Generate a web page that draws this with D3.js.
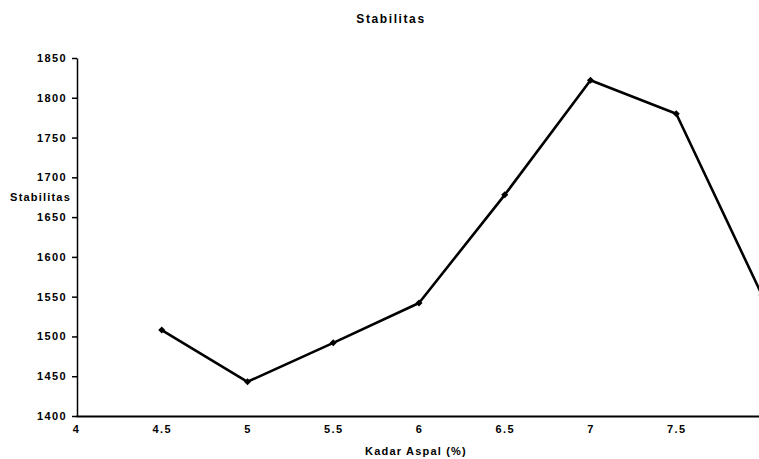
<!DOCTYPE html>
<html>
  <head>
    <meta charset="utf-8">
    <title>Stabilitas</title>
    <script src="https://d3js.org/d3.v7.min.js"></script>
    <style>
      body { margin: 0; background: #fff; }
      svg { display: block; }
      .axis text { font-family: "Liberation Sans", Arial, sans-serif; font-weight: bold; font-size: 11px; fill: #000; letter-spacing: 1.4px; }
      .axis path, .axis line { stroke: #000; }
      .label { font-family: "Liberation Sans", Arial, sans-serif; font-weight: bold; font-size: 11px; fill: #000; letter-spacing: 1.2px; }
      #title { font-size: 12px; letter-spacing: 1.6px; }
      .plot { fill: none; stroke: #000; stroke-width: 2.6px; stroke-linejoin: round; }
    </style>
  </head>
  <body>
    <svg id="chart" width="759" height="459"></svg>
    <script>
      // data
      var kadar = [4.5, 5, 5.5, 6, 6.5, 7, 7.5, 8];
      var stabilitas = [1508, 1443, 1492, 1542, 1678, 1822, 1780, 1552];
      var xTicks = [4, 4.5, 5, 5.5, 6, 6.5, 7, 7.5];
      var yTicks = [1400, 1450, 1500, 1550, 1600, 1650, 1700, 1750, 1800, 1850];

      var width = 759, height = 459;
      var margin = { top: 58, right: -3, bottom: 43, left: 76 };
      var chart = d3.select("#chart");

      var x = d3.scaleLinear()
        .domain([4, 8])
        .range([margin.left, width - margin.right]);
      var y = d3.scaleLinear()
        .domain([1400, 1850])
        .range([height - margin.bottom, margin.top]);

      var xAxis = d3.axisBottom(x)
        .tickValues(xTicks)
        .tickSize(0)
        .tickPadding(9)
        .tickFormat(d3.format("~g"));
      var yAxis = d3.axisLeft(y)
        .tickValues(yTicks)
        .tickSizeInner(5)
        .tickSizeOuter(0)
        .tickPadding(5)
        .tickFormat(d3.format("d"));

      chart.append("g")
        .attr("class", "axis")
        .attr("transform", "translate(0," + y(1400) + ")")
        .call(xAxis)
        .call(function(g) { g.select(".domain").attr("stroke-width", 2); });
      chart.append("g")
        .attr("class", "axis")
        .attr("transform", "translate(" + (margin.left + 1) + ",0)")
        .call(yAxis)
        .call(function(g) { g.select(".domain").attr("stroke-width", 1.5); })
        .call(function(g) { g.selectAll(".tick line").attr("stroke-width", 1.5); });

      var points = kadar.map(function(d, i) { return [x(d), y(stabilitas[i])]; });
      chart.append("path")
        .attr("class", "plot")
        .attr("d", d3.line()(points));
      chart.selectAll(".marker")
        .data(points)
        .enter().append("rect")
          .attr("class", "marker")
          .attr("x", function(d) { return d[0] - 2.5; })
          .attr("y", function(d) { return d[1] - 2.5; })
          .attr("width", 5)
          .attr("height", 5)
          .attr("transform", function(d) { return "rotate(45," + d[0] + "," + d[1] + ")"; });

      chart.append("text")
        .attr("class", "label")
        .attr("id", "title")
        .attr("x", 391)
        .attr("y", 23)
        .attr("text-anchor", "middle")
        .text("Stabilitas");
      chart.append("text")
        .attr("class", "label")
        .attr("x", 71)
        .attr("y", 201)
        .attr("text-anchor", "end")
        .text("Stabilitas");
      chart.append("text")
        .attr("class", "label")
        .attr("x", 416)
        .attr("y", 455)
        .attr("text-anchor", "middle")
        .text("Kadar Aspal (%)");
    </script>
  </body>
</html>
